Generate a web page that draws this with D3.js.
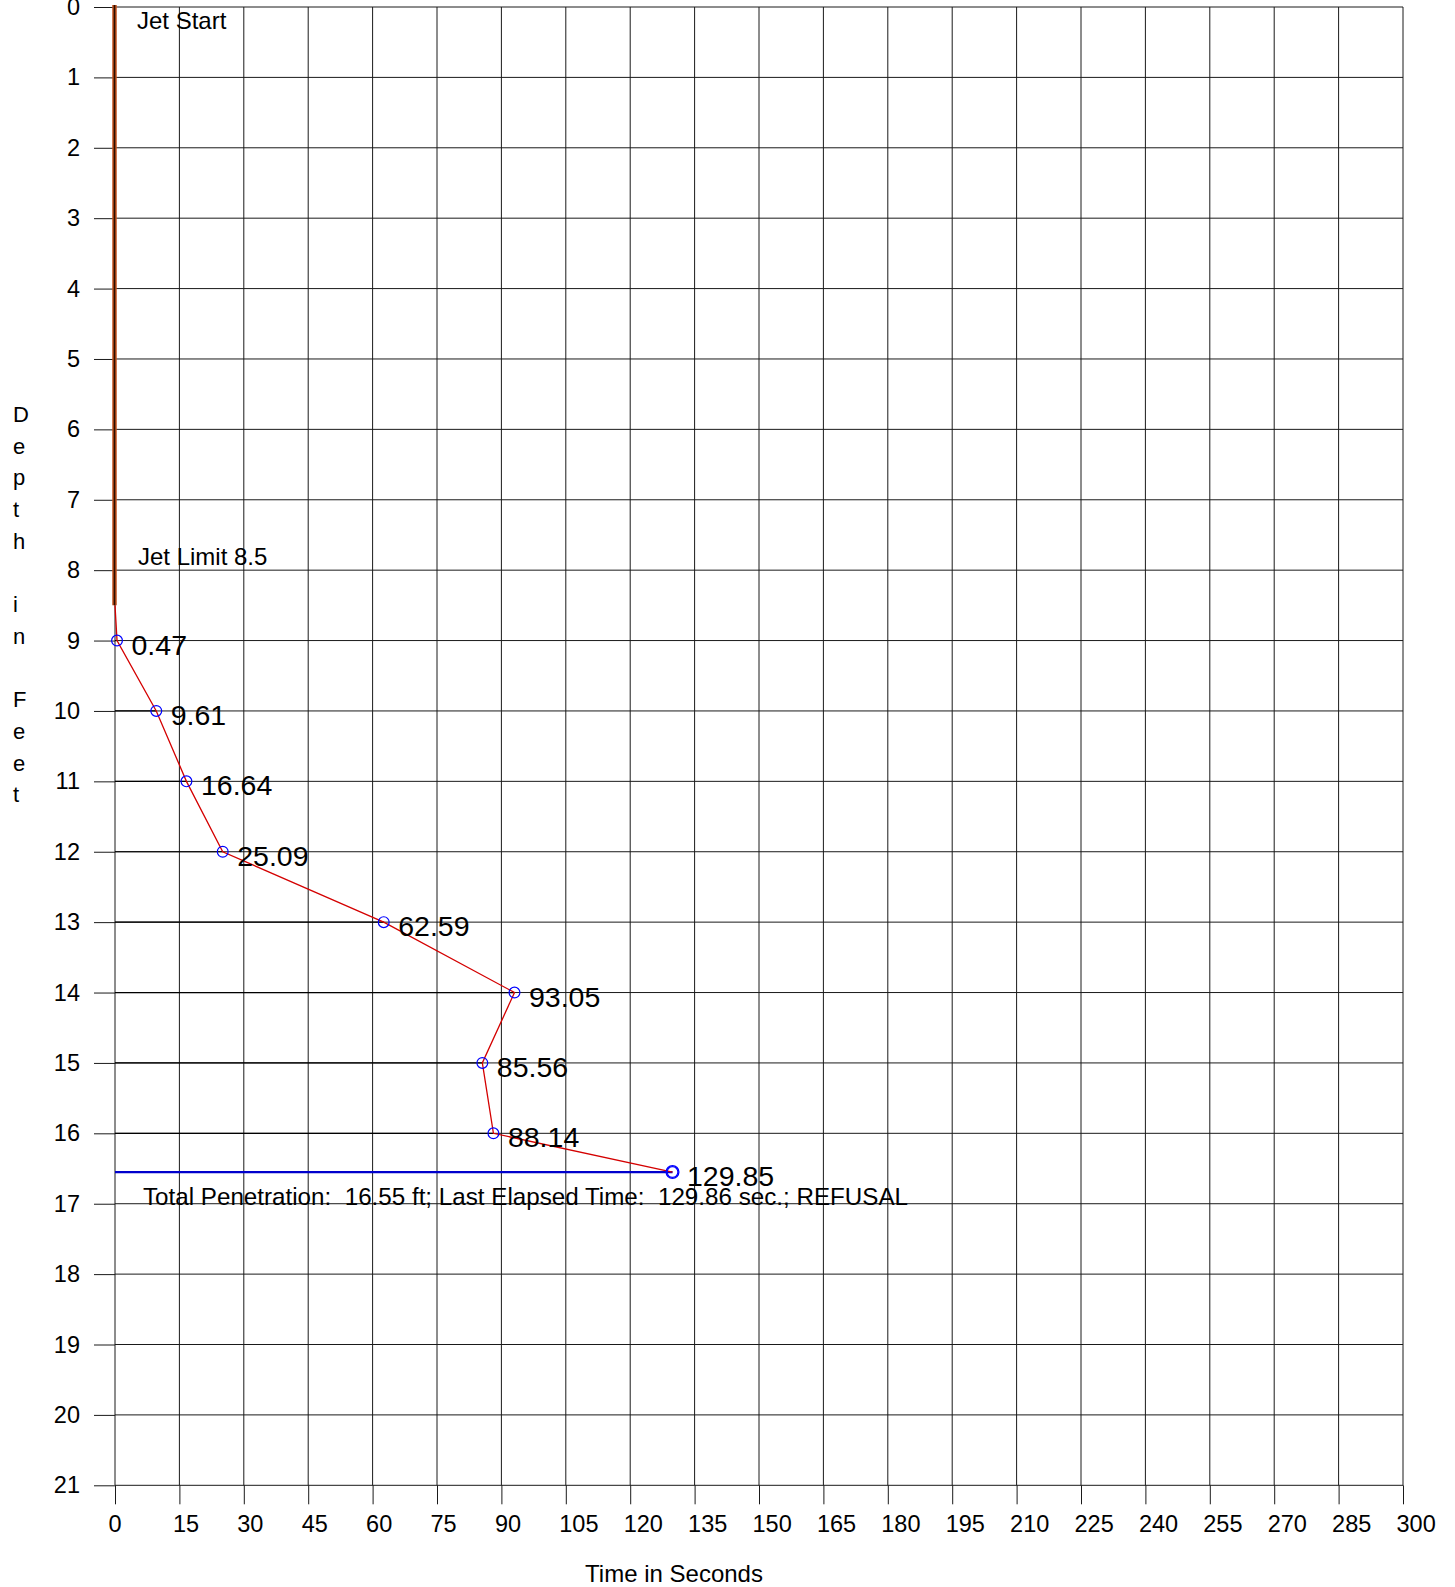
<!DOCTYPE html>
<html>
<head>
<meta charset="utf-8">
<script src="https://cdn.jsdelivr.net/npm/d3@7"></script>
<style>
  html, body { margin: 0; padding: 0; background: #fff; }
  svg { display: block; font-family: "Liberation Sans", Arial, Helvetica, sans-serif; }
</style>
</head>
<body>
<svg id="chart" width="1455" height="1587"></svg>
<script>
// ---- data ----
const depths = [9, 10, 11, 12, 13, 14, 15, 16, 16.55];
const times = [0.47, 9.61, 16.64, 25.09, 62.59, 93.05, 85.56, 88.14, 129.85];
const pointLabels = ["0.47", "9.61", "16.64", "25.09", "62.59", "93.05", "85.56", "88.14", "129.85"];
const jetStartDepth = 0;
const jetLimitDepth = 8.5;
const xTicks = d3.range(0, 301, 15);
const yTicks = d3.range(0, 22, 1);
const yTitleLetters = ["D", "e", "p", "t", "h", "", "i", "n", "", "F", "e", "e", "t"];
const summaryText = "Total Penetration:  16.55 ft; Last Elapsed Time:  129.86 sec.; REFUSAL";
const jetStartText = "Jet Start";
const jetLimitText = "Jet Limit 8.5";
const xTitle = "Time in Seconds";

// ---- layout ----
const svg = d3.select("#chart");
const x = d3.scaleLinear().domain([0, 300]).range([115, 1403]);
const y = d3.scaleLinear().domain([0, 21]).range([7, 1485.3]);

// gridlines
const grid = svg.append("g").attr("stroke", "#1a1a1a").attr("stroke-width", 1).attr("fill", "none");
grid.selectAll("line.v").data(xTicks).join("line")
  .attr("x1", d => x(d)).attr("x2", d => x(d))
  .attr("y1", y(0)).attr("y2", y(21));
grid.selectAll("line.h").data(yTicks).join("line")
  .attr("x1", x(0)).attr("x2", x(300))
  .attr("y1", d => y(d)).attr("y2", d => y(d));

// axes
const yAxis = svg.append("g").attr("transform", `translate(${x(0)},0)`)
  .call(d3.axisLeft(y).tickValues(yTicks).tickSize(21).tickPadding(14).tickFormat(d3.format("d")));
const xAxis = svg.append("g").attr("transform", `translate(0,${y(21)})`)
  .call(d3.axisBottom(x).tickValues(xTicks).tickSize(19).tickPadding(11).tickFormat(d3.format("d")));
[yAxis, xAxis].forEach(a => {
  a.select(".domain").remove();
  a.selectAll(".tick line").attr("stroke", "#1a1a1a");
  a.selectAll(".tick text").attr("fill", "#000").style("font-size", "23.5px")
    .style("font-family", "'Liberation Sans', Arial, sans-serif");
});
xAxis.selectAll(".tick text").attr("dy", "0.71em").attr("text-anchor", "start").attr("x", -7);

// horizontal dark lines from 0 to each reading
svg.append("g").selectAll("line").data(depths.slice(0, -1)).join("line")
  .attr("x1", x(0)).attr("x2", (d, i) => x(times[i]))
  .attr("y1", d => y(d)).attr("y2", d => y(d))
  .attr("stroke", "#000").attr("stroke-width", 1.2);

// final blue line
const lastI = depths.length - 1;
svg.append("line")
  .attr("x1", x(0)).attr("x2", x(times[lastI]))
  .attr("y1", y(depths[lastI])).attr("y2", y(depths[lastI]))
  .attr("stroke", "#0000cc").attr("stroke-width", 2.2);

// jet bar
svg.append("line")
  .attr("x1", x(0) - 0.5).attr("x2", x(0) - 0.5)
  .attr("y1", y(jetStartDepth) - 2).attr("y2", y(jetLimitDepth))
  .attr("stroke", "#c4521c").attr("stroke-width", 4.5);
svg.append("line")
  .attr("x1", x(0) - 0.5).attr("x2", x(0) - 0.5)
  .attr("y1", y(jetStartDepth) - 2).attr("y2", y(jetLimitDepth))
  .attr("stroke", "#2a0e00").attr("stroke-width", 1.6);

// red polyline
const pts = [[0, jetLimitDepth]].concat(times.map((t, i) => [t, depths[i]]));
svg.append("path")
  .attr("d", d3.line().x(d => x(d[0])).y(d => y(d[1]))(pts))
  .attr("fill", "none").attr("stroke", "#d40000").attr("stroke-width", 1.3);

// circles
svg.append("g").selectAll("circle").data(times).join("circle")
  .attr("cx", d => x(d)).attr("cy", (d, i) => y(depths[i])).attr("r", 5.4)
  .attr("fill", "none").attr("stroke", "#0000ff").attr("stroke-width", 1.2);
svg.append("circle")
  .attr("cx", x(times[lastI])).attr("cy", y(depths[lastI])).attr("r", 6.4)
  .attr("fill", "none").attr("stroke", "#0000ff").attr("stroke-width", 1.3);

// point labels
svg.append("g").selectAll("text").data(pointLabels).join("text")
  .attr("x", (d, i) => x(times[i]) + 14.5)
  .attr("y", (d, i) => y(depths[i]) + 14)
  .style("font-size", "28.5px").attr("fill", "#000")
  .text(d => d);

// annotations
svg.append("text").attr("x", 137).attr("y", 29).style("font-size", "24px").text(jetStartText);
svg.append("text").attr("x", 138).attr("y", 565).style("font-size", "24px").text(jetLimitText);
svg.append("text").attr("x", 143).attr("y", 1205).style("font-size", "24.2px")
  .attr("xml:space", "preserve").style("white-space", "pre").text(summaryText);

// axis titles
svg.append("text").attr("x", 674).attr("y", 1582).attr("text-anchor", "middle")
  .style("font-size", "24px").text(xTitle);
svg.append("g").selectAll("text").data(yTitleLetters).join("text")
  .attr("x", 13).attr("y", (d, i) => 422 + i * 31.7)
  .style("font-size", "22px").text(d => d);
</script>
</body>
</html>
